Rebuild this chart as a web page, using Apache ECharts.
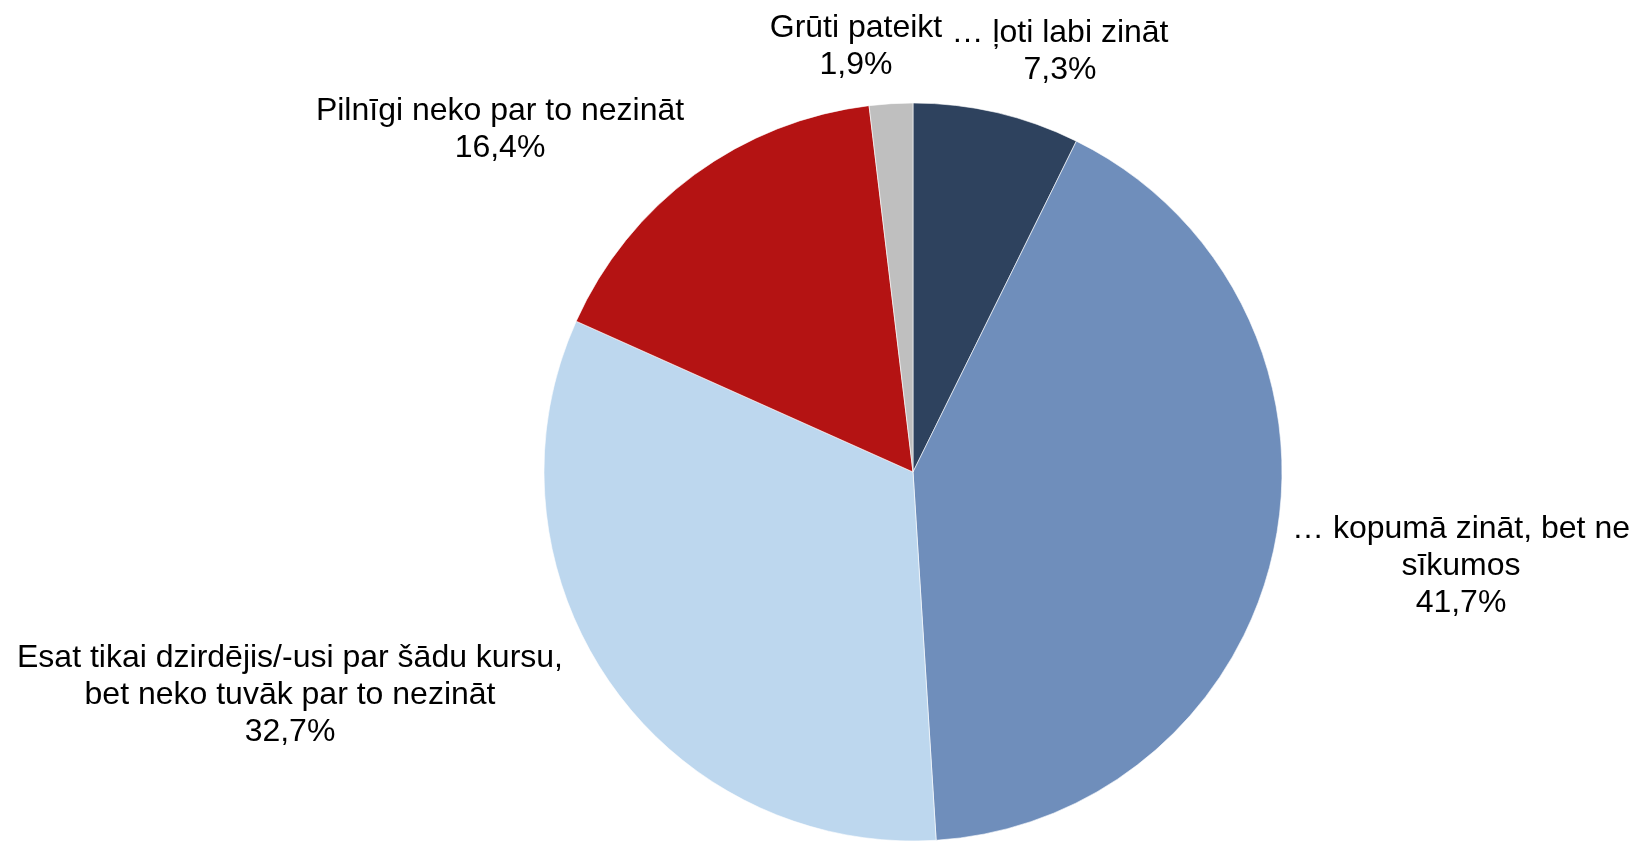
<!DOCTYPE html>
<html>
<head>
<meta charset="utf-8">
<script src="https://cdn.jsdelivr.net/npm/echarts@6/dist/echarts.min.js"></script>
<style>
  html, body { margin: 0; padding: 0; background: #fff; }
  #chart { width: 1635px; height: 841px; }
</style>
</head>
<body>
<div id="chart"></div>
<script>
// atbilžu kategorijas (pulksteņrādītāja virzienā no augšas)
var categories = [
  '… ļoti labi zināt',
  '… kopumā zināt, bet ne\nsīkumos',
  'Esat tikai dzirdējis/-usi par šādu kursu,\nbet neko tuvāk par to nezināt',
  'Pilnīgi neko par to nezināt',
  'Grūti pateikt'
];
var shares = [7.3, 41.7, 32.7, 16.4, 1.9];
var colors = ['#2E425E', '#6F8EBB', '#BDD7EE', '#B41313', '#BFBFBF'];

// etiķešu centri (px)
var labelPos = [[1060, 52], [1461, 566], [290, 695], [500, 130], [856, 47]];

var data = [];
for (var i = 0; i < categories.length; i++) {
  data.push({ name: categories[i], value: shares[i], itemStyle: { color: colors[i] } });
}

var chart = echarts.init(document.getElementById('chart'), null, { renderer: 'canvas' });
var option = {
  backgroundColor: '#ffffff',
  animation: false,
  series: [{
    type: 'pie',
    center: [913, 472],
    radius: [0, 369],
    startAngle: 90,
    clockwise: true,
    data: data,
    itemStyle: { borderColor: '#ffffff', borderWidth: 0.6 },
    label: {
      show: true,
      position: 'outside',
      fontFamily: 'Liberation Sans, Arial, sans-serif',
      fontSize: 32,
      lineHeight: 37,
      color: '#000000',
      align: 'center',
      overflow: 'none',
      formatter: function (p) {
        return p.name + '\n' + p.value.toFixed(1).replace('.', ',') + '%';
      }
    },
    labelLine: { show: false },
    labelLayout: function (params) {
      var pos = labelPos[params.dataIndex];
      return { x: pos[0], y: pos[1], align: 'center', verticalAlign: 'middle' };
    },
    emphasis: { disabled: true }
  }]
};
chart.setOption(option);
</script>
</body>
</html>
